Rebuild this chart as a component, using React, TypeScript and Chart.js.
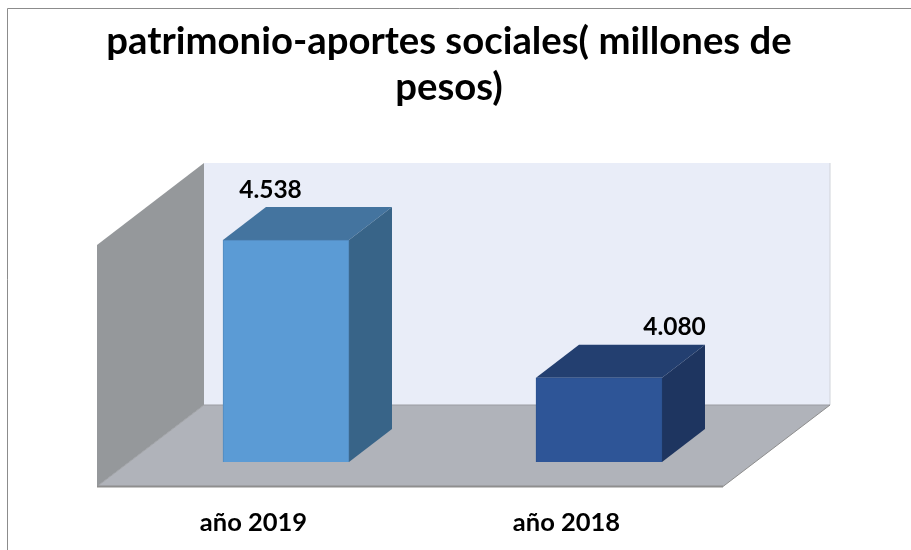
import React, { useEffect, useRef } from "react";
import { Chart, registerables } from "chart.js";

Chart.register(...registerables);

const categories = ["año 2019", "año 2018"];
const values = [4538, 4080];
const valueLabels = ["4.538", "4.080"];
const frontColors = ["#5B9BD5", "#2E5597"];
const borderColors = ["#5289BD", "#2C5290"];
const topColors = ["#44749F", "#233F70"];
const sideColors = ["#386488", "#1E3560"];
const titleLines = ["patrimonio-aportes sociales( millones de", "pesos)"];
const axisMin = 3800;
const axisMax = 4600;

const FONT = "Lato, Carlito, Calibri, sans-serif";
const DEPTH_X = 43;
const DEPTH_Y = 33;
const LABEL_NUDGE_X = [-15.5, 75.5];
const LABEL_RISE = 42.5;

function poly(ctx: CanvasRenderingContext2D, pts: number[][], fill: string) {
  ctx.beginPath();
  pts.forEach((p, i) => (i ? ctx.lineTo(p[0], p[1]) : ctx.moveTo(p[0], p[1])));
  ctx.closePath();
  ctx.fillStyle = fill;
  ctx.fill();
}

function seg(ctx: CanvasRenderingContext2D, a: number[], b: number[], color: string, w = 1) {
  ctx.beginPath();
  ctx.moveTo(a[0], a[1]);
  ctx.lineTo(b[0], b[1]);
  ctx.strokeStyle = color;
  ctx.lineWidth = w;
  ctx.stroke();
}

const scenePlugin = {
  id: "scene3d",
  beforeDraw(chart: any) {
    const { ctx, width, height } = chart;
    ctx.save();
    ctx.fillStyle = "#FFFFFF";
    ctx.fillRect(0, 0, width, height);
    seg(ctx, [7.5, height], [7.5, 8.5], "#8C8C8C");
    seg(ctx, [7.5, 8.5], [width, 8.5], "#8C8C8C");
    ctx.restore();
  },
  beforeDatasetsDraw(chart: any) {
    const { ctx, chartArea } = chart;
    const y0 = chartArea.bottom;
    const xl = chartArea.left;
    const backL = [xl + 74.5, y0 - 57];
    const backR = [xl + 700.5, y0 - 57];
    const frontL = [xl - 32.5, y0 + 24.5];
    const frontR = [xl + 593.5, y0 + 24.5];
    const wallTop = y0 - 299;
    const leftTop = y0 - 217;
    ctx.save();
    poly(ctx, [[backL[0], wallTop], [backR[0], wallTop], backR, backL], "#E9EDF8");
    poly(ctx, [[frontL[0], leftTop], [backL[0], wallTop], backL, frontL], "#95989B");
    poly(ctx, [frontL, backL, backR, frontR], "#B0B3BA");
    seg(ctx, [backR[0], wallTop], backR, "#D0D3DA");
    seg(ctx, backL, backR, "#9A9CA2");
    seg(ctx, frontL, backL, "#A0A2A6");
    seg(ctx, frontR, backR, "#8E8E8E");
    seg(ctx, frontL, frontR, "#8E8E8E", 2);
    const meta = chart.getDatasetMeta(0);
    meta.data.forEach((bar: any, i: number) => {
      const hw = bar.width / 2;
      const l = bar.x - hw;
      const r = bar.x + hw;
      const t = bar.y;
      const b = bar.base;
      poly(ctx, [[l, t], [l + DEPTH_X, t - DEPTH_Y], [r + DEPTH_X, t - DEPTH_Y], [r, t]], topColors[i]);
      poly(ctx, [[r, t], [r + DEPTH_X, t - DEPTH_Y], [r + DEPTH_X, b - DEPTH_Y], [r, b]], sideColors[i]);
    });
    ctx.restore();
  },
  afterDatasetsDraw(chart: any) {
    const { ctx } = chart;
    const meta = chart.getDatasetMeta(0);
    ctx.save();
    ctx.font = `bold 24.5px ${FONT}`;
    ctx.fillStyle = "#000000";
    ctx.textAlign = "center";
    ctx.textBaseline = "alphabetic";
    meta.data.forEach((bar: any, i: number) => {
      ctx.fillText(valueLabels[i], bar.x + LABEL_NUDGE_X[i], bar.y - LABEL_RISE);
    });
    ctx.restore();
  },
};

const hiddenAxis = {
  min: axisMin,
  max: axisMax,
  grid: { display: false },
  border: { display: false },
  ticks: { display: false },
};

export default function App() {
  const ref = useRef<HTMLCanvasElement>(null);
  useEffect(() => {
    if (!ref.current) return;
    const chart = new Chart(ref.current, {
      type: "bar",
      data: {
        labels: categories,
        datasets: [
          {
            data: values,
            base: axisMin,
            yAxisID: "y",
            backgroundColor: frontColors,
            borderColor: borderColors,
            borderWidth: 1,
            barThickness: 126,
          },
        ],
      },
      options: {
        responsive: false,
        animation: false,
        layout: { padding: { left: 0, right: 13, top: 0, bottom: 0 } },
        plugins: {
          legend: { display: false },
          tooltip: { enabled: false },
          title: {
            display: true,
            text: titleLines,
            color: "#000000",
            font: { family: FONT, size: 38.3, weight: "bold", lineHeight: "46px" },
            padding: { top: 19, bottom: 110.4 },
          },
        },
        scales: {
          x: {
            grid: { display: false },
            border: { display: false },
            ticks: {
              color: "#000000",
              font: { family: FONT, size: 25.5, weight: "bold" },
              padding: 37,
              labelOffset: -32.5,
              maxRotation: 0,
              autoSkip: false,
            },
            afterFit: (s: any) => {
              s.height = 88;
            },
          },
          y: {
            ...hiddenAxis,
            position: "left",
            afterFit: (s: any) => {
              s.width = 129.5;
            },
          },
          yRight: {
            ...hiddenAxis,
            position: "right",
            afterFit: (s: any) => {
              s.width = 142.5;
            },
          },
        },
      },
      plugins: [scenePlugin],
    } as any);
    return () => chart.destroy();
  }, []);
  return (
    <div style={{ position: "absolute", left: 0, top: 0, width: 911, height: 550 }}>
      <canvas ref={ref} width={911} height={550} style={{ display: "block" }} />
    </div>
  );
}
